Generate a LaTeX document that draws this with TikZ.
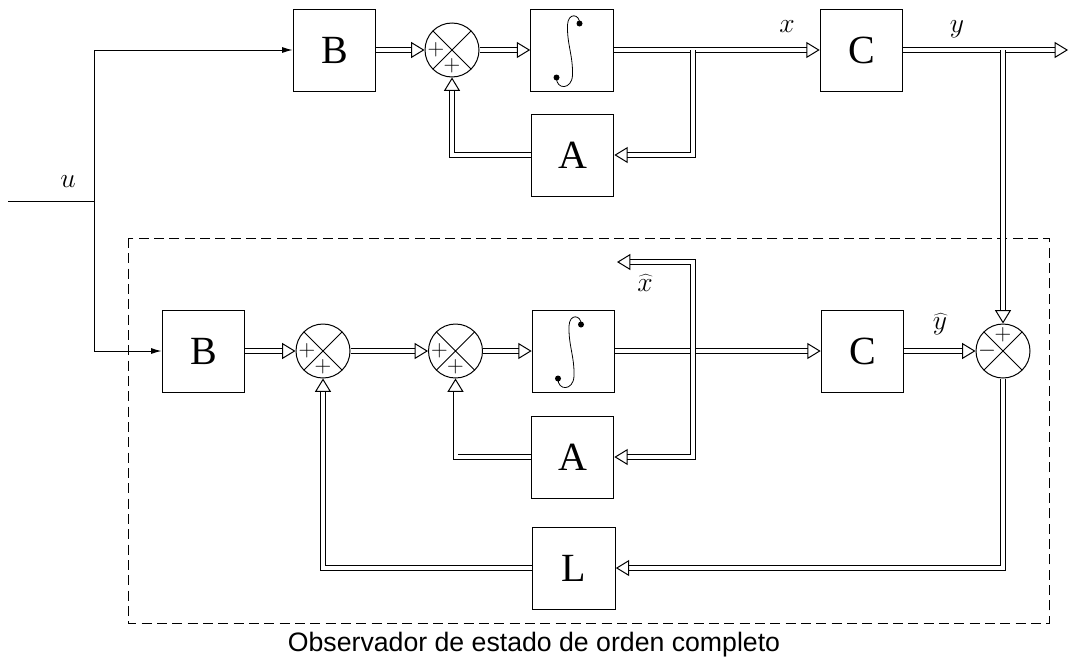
\documentclass[tikz,border=0pt]{standalone}
\usepackage{fontspec}
\setmainfont{Liberation Serif}
\newfontfamily\capfont{Liberation Sans}
\usetikzlibrary{arrows.meta}

\tikzset{
  blk/.style={draw, line width=0.75pt, minimum width=62pt, minimum height=61.5pt, inner sep=0pt, font=\fontsize{30}{30}\selectfont},
  sumj/.style={draw, circle, line width=0.75pt, minimum size=40.5pt, inner sep=0pt,
    path picture={\draw[line width=0.75pt] (path picture bounding box.north west) -- (path picture bounding box.south east)
                  (path picture bounding box.north east) -- (path picture bounding box.south west);}},
  dbl/.style={line width=0.6pt, double, double distance=3pt, -{Triangle[open, length=10pt, width=12pt, line width=0.75pt]}},
  sig/.style={line width=0.75pt, -{Latex[length=8pt, width=4.5pt]}},
  lbl/.style={inner sep=0.75pt, font=\fontsize{22}{22}\selectfont},
  sgn/.style={inner sep=0pt, font=\fontsize{18}{18}\selectfont},
  integ/.pic={
    \draw[line width=0.6pt] (7.5,26.5) .. controls (8,36) and (-4,38) .. (-4.5,25) .. controls (-5,5) and (1,-5) .. (0.5,-25) .. controls (0,-40) and (-16,-40) .. (-15.5,-27.5);
    \fill (7.5,26.5) circle (3) (-15.5,-27.5) circle (3);
  },
}

\begin{document}
\begin{tikzpicture}[x=0.75pt,y=0.75pt,yscale=-1,xscale=1]
  \useasboundingbox (0,0) rectangle (1069,664);

  %Observer frame
  \draw [line width=0.6pt, dash pattern=on 7.5pt off 4pt] (128,238) rectangle (1049,623);

  % Plant
  \node [blk] (B1) at (334.5,50) {B};
  \node [sumj] (S1) at (452,50) {};
  \node [blk] (I1) at (572,50) {};
  \pic at (I1.center) {integ};
  \node [blk] (C1) at (861.5,50) {C};
  \node [blk] (A1) at (572.5,155) {A};
  \node [sgn] (s1l) at (436,50) {$+$};
  \node [sgn] (s1b) at (452,66) {$+$};

  % Observer
  \node [blk] (B2) at (203.5,351) {B};
  \node [sumj] (S2) at (323,351) {};
  \node [sumj] (S4) at (455.5,351) {};
  \node [blk] (I2) at (573.5,351) {};
  \pic at (I2.center) {integ};
  \node [blk] (C2) at (862.5,351) {C};
  \node [sumj] (S3) at (1003,351) {};
  \node [blk] (A2) at (572.5,457) {A};
  \node [blk] (L) at (574,568) {L};
  \node [sgn] (s2l) at (307,351) {$+$};
  \node [sgn] (s2b) at (323,367) {$+$};
  \node [sgn] (s4l) at (439.5,351) {$+$};
  \node [sgn] (s4b) at (455.5,367) {$+$};
  \node [sgn] (s3t) at (1003,335) {$+$};
  \node [sgn] (s3l) at (987,351) {$-$};

  % branch points
  \coordinate (u0) at (8,201);
  \coordinate (uj) at (94,201);
  \coordinate (j1) at (693,50);
  \coordinate (yj) at (1003,50);
  \coordinate (yout) at (1068,50);
  \coordinate (j2) at (693,351);
  \coordinate (xh) at (617,262);

  % input
  \draw [line width=0.75pt] (u0) -- (uj);
  \draw [sig] (uj) |- (B1);
  \draw [sig] (uj) |- (B2);

  % plant signals
  \draw [dbl] (B1) -- (S1);
  \draw [dbl] (S1) -- (I1);
  \draw [dbl] (I1) -- (C1);
  \draw [dbl] (C1) -- (yout);
  \draw [dbl] (j1) |- (A1);
  \draw [dbl] (A1) -| (S1);
  \draw [dbl] (yj) -- (S3);

  % observer signals
  \draw [dbl] (B2) -- (S2);
  \draw [dbl] (S2) -- (S4);
  \draw [dbl] (S4) -- (I2);
  \draw [dbl] (I2) -- (C2);
  \draw [dbl] (j2) |- (xh);
  \draw [dbl] (j2) |- (A2);
  \draw [dbl] (A2) -| (S4);
  \draw [dbl] (C2) -- (S3);
  \draw [dbl] (S3) |- (L);
  \draw [dbl] (L) -| (S2);

  % Text Node
  \node [lbl] (lu) at (68,182) {$u$};
  \node [lbl] (lx) at (787,27) {$x$};
  \node [lbl] (ly) at (957,29) {$y$};
  \node [lbl] (lxh) at (645,283) {$\widehat{x}$};
  \node [lbl] (lyh) at (940,324) {$\widehat{y}$};
  \node [font=\capfont\fontsize{20}{20}\selectfont] (cap) at (534,645) {Observador de estado de orden completo};
\end{tikzpicture}
\end{document}
